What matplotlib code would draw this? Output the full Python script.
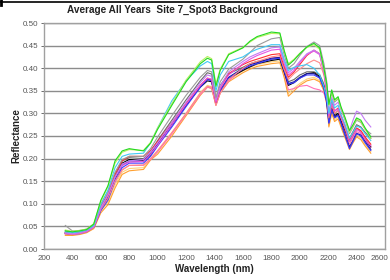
import matplotlib
matplotlib.use("Agg")
import matplotlib.pyplot as plt
from matplotlib.lines import Line2D
from matplotlib.transforms import ScaledTranslation

# ---------------- data ----------------
wavelength = [350, 400, 450, 500, 550, 600, 650, 700, 750, 800, 900, 950, 1000, 1100, 1200,
              1300, 1350, 1380, 1410, 1440, 1500, 1600, 1650, 1700, 1800, 1860, 1890, 1920,
              1960, 2000, 2050, 2100, 2140, 2170, 2190, 2205, 2225, 2245, 2270, 2290, 2320,
              2350, 2375, 2400, 2430, 2460, 2500]

green = [.040, .038, .040, .043, .055, .108, .140, .195, .217, .222, .217, .234, .265, .318, .370,
         .410, .422, .418, .360, .395, .430, .445, .460, .470, .480, .478, .440, .407,
         .418, .432, .447, .455, .445, .400, .365, .320, .352, .330, .337, .315, .290,
         .262, .275, .290, .285, .268, .248]
lime = [.042, .039, .041, .044, .056, .105, .138, .190, .214, .220, .218, .236, .268, .322, .374,
        .414, .426, .421, .365, .398, .432, .446, .458, .468, .477, .476, .438, .410,
        .420, .433, .446, .452, .442, .398, .362, .318, .348, .328, .334, .312, .288,
        .258, .272, .287, .282, .265, .245]
cyan = [.038, .036, .038, .042, .052, .098, .130, .180, .205, .210, .212, .235, .268, .328, .372,
        .405, .415, .410, .350, .385, .415, .425, .435, .442, .452, .452, .420, .395,
        .402, .405, .408, .400, .385, .360, .335, .300, .330, .312, .318, .298, .275,
        .245, .258, .272, .268, .255, .240]
gray_top = [.052, .040, .041, .044, .054, .100, .128, .170, .198, .205, .205, .222, .248, .295, .340,
            .380, .395, .392, .335, .370, .398, .420, .435, .450, .465, .468, .430, .400,
            .410, .428, .448, .458, .450, .410, .370, .318, .345, .325, .332, .312, .285,
            .255, .270, .285, .280, .265, .255]
violet = [.036, .034, .036, .040, .050, .092, .120, .160, .188, .195, .198, .215, .235, .280, .325,
          .368, .385, .382, .330, .360, .392, .415, .425, .432, .445, .447, .415, .390,
          .400, .415, .432, .440, .432, .395, .355, .305, .335, .318, .325, .308, .285,
          .262, .285, .305, .300, .285, .270]
magenta = [.035, .033, .035, .039, .049, .090, .118, .158, .185, .192, .194, .210, .230, .275, .320,
           .362, .378, .376, .325, .355, .385, .410, .420, .428, .440, .442, .410, .385,
           .395, .412, .430, .438, .430, .390, .348, .295, .322, .305, .310, .292, .268,
           .238, .252, .265, .258, .242, .228]
red = [.036, .034, .036, .040, .050, .094, .122, .165, .195, .205, .205, .218, .238, .280, .322,
       .362, .378, .375, .325, .355, .388, .408, .415, .420, .430, .432, .405, .380,
       .392, .408, .428, .440, .432, .392, .350, .295, .325, .305, .312, .295, .270,
       .240, .255, .268, .262, .248, .232]
light_red = [.034, .032, .034, .038, .048, .088, .112, .150, .175, .185, .186, .200, .218, .258, .300,
             .345, .360, .358, .318, .345, .375, .400, .410, .415, .425, .428, .398, .375,
             .388, .398, .410, .418, .412, .385, .345, .290, .318, .300, .306, .290, .265,
             .238, .252, .265, .260, .245, .230]
blue = [.034, .032, .034, .038, .048, .085, .108, .150, .180, .190, .190, .205, .228, .270, .315,
        .358, .375, .372, .322, .350, .378, .398, .405, .410, .420, .422, .395, .365,
        .368, .378, .385, .385, .378, .355, .325, .278, .308, .290, .295, .278, .250,
        .222, .238, .255, .250, .235, .218]
navy = [.035, .033, .035, .039, .049, .088, .112, .155, .185, .195, .194, .208, .232, .274, .318,
        .360, .376, .373, .323, .352, .380, .400, .408, .412, .422, .424, .396, .366,
        .370, .380, .388, .388, .380, .356, .326, .280, .310, .292, .297, .280, .252,
        .226, .240, .256, .252, .238, .220]
black = [.036, .034, .036, .040, .050, .090, .115, .160, .190, .198, .196, .210, .232, .275, .318,
         .358, .372, .370, .322, .350, .378, .395, .403, .410, .417, .420, .392, .362,
         .368, .378, .388, .390, .382, .360, .330, .285, .312, .295, .300, .285, .262,
         .238, .252, .266, .260, .245, .226]
gray_low = [.040, .036, .038, .041, .051, .095, .120, .165, .195, .202, .200, .215, .240, .285, .330,
            .372, .390, .387, .332, .362, .388, .402, .410, .415, .420, .422, .396, .370,
            .375, .385, .392, .392, .386, .365, .336, .290, .318, .300, .306, .290, .268,
            .245, .260, .275, .270, .258, .245]
pink = [.034, .032, .034, .038, .048, .086, .110, .148, .175, .185, .185, .198, .215, .255, .298,
        .342, .358, .356, .318, .345, .372, .398, .408, .414, .422, .424, .390, .352,
        .355, .360, .362, .355, .352, .345, .325, .282, .310, .292, .298, .283, .258,
        .232, .246, .260, .255, .240, .225]
orange = [.030, .030, .032, .036, .045, .080, .098, .135, .165, .173, .176, .197, .210, .250, .295,
          .340, .358, .355, .318, .345, .370, .390, .398, .404, .410, .412, .380, .338,
          .350, .362, .372, .376, .370, .350, .320, .270, .300, .282, .288, .270, .245,
          .220, .235, .248, .242, .228, .212]
light_orange = [.032, .031, .033, .037, .046, .084, .104, .142, .170, .178, .180, .200, .216, .256, .300,
                .346, .362, .359, .321, .348, .374, .394, .402, .408, .414, .416, .384, .344,
                .356, .366, .376, .380, .373, .352, .322, .274, .304, .286, .292, .274, .250,
                .225, .240, .252, .246, .232, .216]

series = [
    (light_orange, "#ffd27a"), (orange, "#ffa030"), (pink, "#ff70b8"), (gray_low, "#6a6a6a"),
    (black, "#000000"), (navy, "#1a1a90"), (blue, "#3a3aff"), (light_red, "#ff8a8a"),
    (red, "#ff3030"), (magenta, "#e855e0"), (violet, "#c27cf5"), (gray_top, "#9a9a9a"),
    (cyan, "#40c8f5"), (lime, "#b8f060"), (green, "#22d822"),
]

x_ticks = [200, 400, 600, 800, 1000, 1200, 1400, 1600, 1800, 2000, 2200, 2400, 2600]
y_ticks = [0.00, 0.05, 0.10, 0.15, 0.20, 0.25, 0.30, 0.35, 0.40, 0.45, 0.50]

title = "Average All Years  Site 7_Spot3 Background"
x_label = "Wavelength (nm)"
y_label = "Reflectance"

# ---------------- figure ----------------
FONT = ["Liberation Sans", "DejaVu Sans"]
plt.rcParams["font.family"] = FONT

W, H = 390, 280
fig = plt.figure(figsize=(W / 100, H / 100), dpi=100)
fig.patch.set_facecolor("white")
ax = fig.add_axes([44 / W, 1 - 249 / H, (385 - 44) / W, (249 - 23) / H])

for vals, col in series:
    ax.plot(wavelength, vals, color=col, lw=0.8, solid_joinstyle="round")

ax.set_xlim(200, 2600)
ax.set_ylim(0, 0.5)
ax.set_xticks(x_ticks)
ax.set_yticks(y_ticks)
ax.set_xticklabels([str(t) for t in x_ticks])
ax.set_yticklabels([f"{t:.2f}" for t in y_ticks])
ax.yaxis.grid(True, color="#8c8c8c", lw=1.0)
ax.set_axisbelow(True)
for sp in ax.spines.values():
    sp.set_color("#a0a0a0")
    sp.set_linewidth(1.0)
ax.tick_params(axis="both", labelsize=5.8, colors="#555555", length=2, width=0.6, pad=2)
ax.tick_params(axis="x", length=0, pad=4)

# keep the last x label inside the picture (the reference shows it at the very edge)
last = ax.get_xticklabels()[-1]
last.set_transform(last.get_transform() + ScaledTranslation(-6 / 100, 0, fig.dpi_scale_trans))

ax.set_xlabel(x_label, fontsize=7, fontweight="bold", color="#222222", labelpad=2)
ax.set_ylabel(y_label, fontsize=7, fontweight="bold", color="#222222")
ax.yaxis.set_label_coords((21 - 44) / (385 - 44), 0.5)
fig.text(67 / W, 1 - 10 / H, title, fontsize=7.2, fontweight="bold", color="#222222",
         ha="left", va="center")

# black frame fragment at the top of the screenshot
fig.add_artist(Line2D([0, 1], [1 - 1.5 / H, 1 - 1.5 / H], transform=fig.transFigure,
                      color="black", lw=1.2))
fig.add_artist(Line2D([1 / W, 1 / W], [1, 1 - 5 / H], transform=fig.transFigure,
                      color="black", lw=2))

fig.savefig("out.png", dpi=100)
